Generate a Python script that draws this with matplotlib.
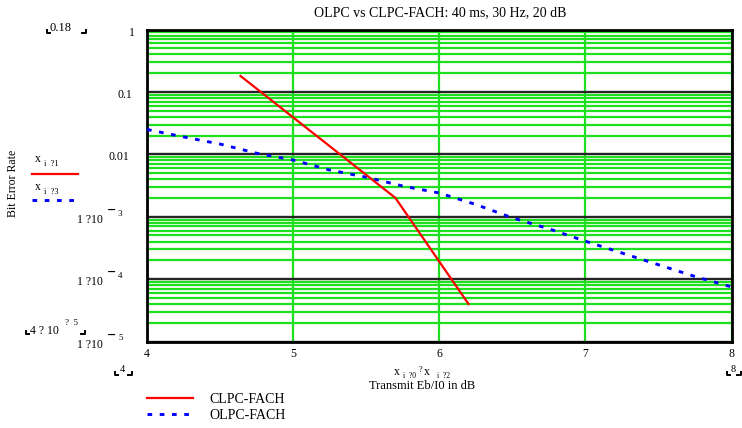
import matplotlib
matplotlib.use('Agg')
import matplotlib.pyplot as plt
import matplotlib.transforms as mtransforms
from matplotlib.lines import Line2D

# values
clpc_x = [4.64, 5.7, 6.2]
clpc_ber = [0.18, 0.002, 4e-5]
olpc_x = [4.0, 4.25, 4.5, 4.75, 5.0, 5.25, 5.5, 5.75, 6.0,
          6.25, 6.5, 6.75, 7.0, 7.25, 7.5, 7.75, 8.0]
olpc_ber = [0.025, 0.019, 0.0146, 0.0104, 0.0081, 0.0056, 0.0043, 0.0031, 0.0024,
            0.00157, 0.00096, 0.00064, 0.000405, 0.000262, 0.00017, 0.00011, 7.5e-5]
x_ticks = [4, 5, 6, 7, 8]
y_decades = [1e-5, 1e-4, 1e-3, 1e-2, 1e-1, 1]
y_labels = ['1 ?10', '1 ?10', '1 ?10', '0.01', '0.1', '1']
y_exps = ['5', '4', '3', '', '', '']
series_names = ['CLPC-FACH', 'OLPC-FACH']
title = 'OLPC vs CLPC-FACH: 40 ms, 30 Hz, 20 dB'
x_label = 'Transmit Eb/I0 in dB'
y_label = 'Bit Error Rate'

W, H = 742, 428
GREEN = '#1ee01e'
DASH = (0, (1.6, 2.6))
plt.rcParams['font.family'] = ['Liberation Serif', 'DejaVu Serif']

fig = plt.figure(figsize=(W / 100, H / 100), dpi=100)
ax = fig.add_axes([147 / W, 1 - 341.5 / H, 584.5 / W, 312 / H])


def ftext(x, y, s, size, ha='left', va='center', **kw):
    return fig.text(x / W, 1 - y / H, s, fontsize=size, ha=ha, va=va, **kw)


def fline(xs, ys, **kw):
    fig.add_artist(Line2D([v / W for v in xs], [1 - v / H for v in ys],
                          transform=fig.transFigure, **kw))


def corner(x, y, left=True):
    # little Mathcad placeholder brackets
    if left:
        fline([x, x, x + 3], [y - 3, y, y], color='k', lw=1.4)
    else:
        fline([x - 4, x, x], [y, y, y - 3], color='k', lw=1.4)


# curves
red, = ax.plot(clpc_x, clpc_ber, color='#ff0000', lw=1.6, zorder=4)
blue, = ax.plot(olpc_x, olpc_ber, color='#0000ff', lw=2.1,
                linestyle=DASH, zorder=3)

ax.set_yscale('log')
ax.set_xlim(4, 8)
ax.set_ylim(1e-5, 1)
ax.set_xticks(x_ticks)
ax.set_xticklabels([str(v) for v in x_ticks])
ax.set_yticks(y_decades)
ax.set_yticklabels([''] * len(y_decades))
ax.yaxis.set_minor_locator(matplotlib.ticker.LogLocator(base=10, subs=range(2, 10)))
ax.yaxis.set_minor_formatter(matplotlib.ticker.NullFormatter())
ax.tick_params(which='both', length=0)
ax.tick_params(axis='x', pad=5, labelsize=8.5)
ax.set_axisbelow(True)
ax.grid(which='minor', axis='y', color=GREEN, lw=1.6)
ax.grid(which='major', axis='y', color='#252525', lw=1.7)
ax.grid(which='major', axis='x', color=GREEN, lw=1.6)
for sp in ax.spines.values():
    sp.set_linewidth(2)
    sp.set_color('k')

# y tick labels (Mathcad style)
ytrans = mtransforms.blended_transform_factory(fig.transFigure, ax.transData)
label_right = [103, 103, 103, 129, 132, 135]
for d, lab, ex, xr in zip(y_decades, y_labels, y_exps, label_right):
    t = mtransforms.offset_copy(ytrans, fig=fig, y=-3, units='dots')
    ax.text(xr / W, d, lab, transform=t, ha='right', va='center', fontsize=8.5)
    if ex:
        t2 = mtransforms.offset_copy(ytrans, fig=fig, y=7, units='dots')
        ax.text(111.5 / W, d, '\u2212', transform=t2, ha='center', va='center',
                fontsize=8, fontweight='bold', family='DejaVu Sans')
        t3 = mtransforms.offset_copy(ytrans, fig=fig, y=3, units='dots')
        ax.text(118 / W, d, ex, transform=t3, ha='left', va='center', fontsize=6.5)

# title and axis labels
ftext(440, 13, title, 10, ha='center')
ftext(13, 183.5, y_label, 8.5, ha='center', rotation=90)
ftext(422, 386, x_label, 9, ha='center')
ftext(394, 372, 'x', 8.5)
ftext(403, 375.5, 'i  ?0', 5.5)
ftext(419, 370, '?', 6)
ftext(424, 372, 'x', 8.5)
ftext(437, 375.5, 'i  ?2', 5.5)

# Mathcad trace legend at left
ftext(35, 158.5, 'x', 8.5)
ftext(44, 164, 'i  ?1', 6)
fline([32, 78], [173.5, 173.5], color='#ff0000', lw=1.6)
ftext(35, 186.5, 'x', 8.5)
ftext(44, 192, 'i  ?3', 6)
fline([32, 77], [199.5, 199.5], color='#0000ff', lw=2.1, linestyle=DASH)

# Mathcad range placeholders
ftext(49, 28, '0.18', 9)
corner(47, 33, True)
corner(86, 33, False)
ftext(30, 331, '4 ? 10', 8.5)
ftext(65, 323, '?  5', 6.5)
corner(26, 334, True)
corner(85, 334, False)
ftext(122, 369, '4', 7.5, ha='center')
corner(115, 375, True)
corner(132, 375, False)
ftext(733, 369, '8', 7.5, ha='center')
corner(727, 375, True)
corner(741, 375, False)

# series legend at bottom
fig.legend([red, blue], series_names, loc='upper left',
           bbox_to_anchor=(147 / W, 1 - 393 / H), frameon=False,
           borderpad=0, borderaxespad=0, handlelength=3.3, handletextpad=1.2,
           labelspacing=0.2, fontsize=10)

fig.savefig('out.png', dpi=100)
